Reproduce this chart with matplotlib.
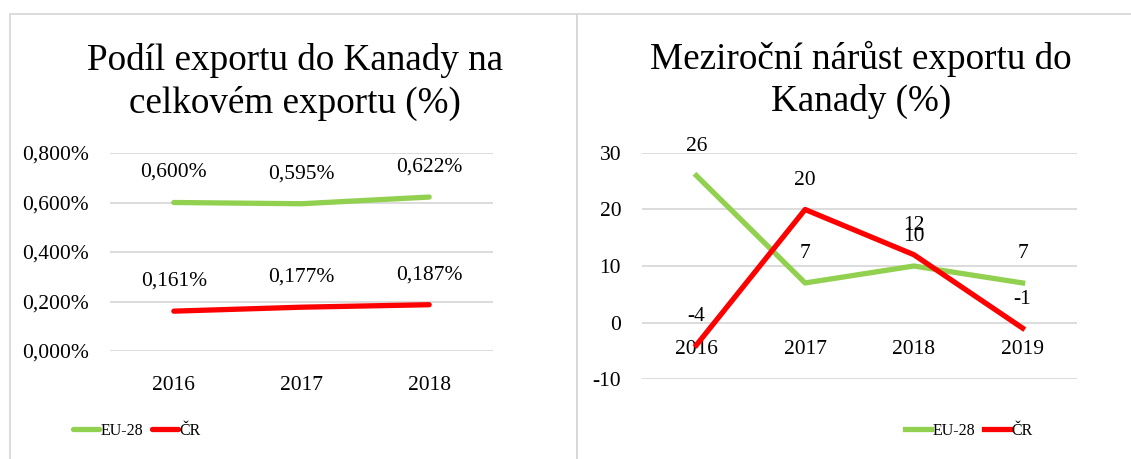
import matplotlib.pyplot as plt
from matplotlib.patches import Rectangle

plt.rcParams['font.family'] = ['Liberation Serif', 'DejaVu Serif']
plt.rcParams['axes.unicode_minus'] = False

# data
years_share = ['2016', '2017', '2018']
eu_share = [0.600, 0.595, 0.622]
cr_share = [0.161, 0.177, 0.187]

years_growth = ['2016', '2017', '2018', '2019']
eu_growth = [26, 7, 10, 7]
cr_growth = [-4, 20, 12, -1]

GREEN = '#92d050'
RED = '#ff0000'
GRID = '#d9d9d9'

W, H = 1131, 459
fig = plt.figure(figsize=(W / 100, H / 100), dpi=100)


def px_axes(x0, y0, x1, y1):
    # pixel box (top-left origin) -> figure axes
    return fig.add_axes([x0 / W, 1 - y1 / H, (x1 - x0) / W, (y1 - y0) / H])


# panel borders
for x0, x1 in [(10, 577), (577, 1140)]:
    fig.patches.append(Rectangle((x0 / W, -0.05), (x1 - x0) / W, 1 - 14 / H + 0.05,
                                 transform=fig.transFigure, fill=False,
                                 ec=GRID, lw=1.3))


def style(ax):
    for s in ax.spines.values():
        s.set_visible(False)
    ax.grid(axis='y', color=GRID, lw=1.3)
    ax.set_axisbelow(True)
    ax.tick_params(length=0, labelsize=15.5)
    ax.tick_params(axis='y', pad=15)


def pct(v):
    return f'{v:.3f}%'.replace('.', ',')


# left chart
ax1 = px_axes(110, 153, 493, 351)
style(ax1)
x = range(len(years_share))
ax1.plot(x, eu_share, color=GREEN, lw=3.8, solid_capstyle='round', label='EU-28')
ax1.plot(x, cr_share, color=RED, lw=3.8, solid_capstyle='round', label='ČR')
for series in (eu_share, cr_share):
    for xi, v in zip(x, series):
        ax1.annotate(pct(v), (xi, v), xytext=(0, 30), textcoords='offset pixels',
                     ha='center', va='center', fontsize=15.5)
ax1.set_xlim(-0.5, 2.5)
ax1.set_ylim(0, 0.8)
ticks = [0, 0.2, 0.4, 0.6, 0.8]
ax1.set_yticks(ticks)
ax1.set_yticklabels([pct(t) for t in ticks])
ax1.set_xticks(list(x))
ax1.set_xticklabels(years_share)
ax1.tick_params(axis='x', pad=18)
fig.text(295 / W, 1 - 82 / H, 'Podíl exportu do Kanady na\ncelkovém exportu (%)',
         ha='center', va='center', fontsize=26.7, linespacing=1.3)
ax1.legend(loc='center', bbox_to_anchor=(137 / W, 1 - 431 / H),
           bbox_transform=fig.transFigure, ncol=2, frameon=False, fontsize=11.5,
           handlelength=1.6, handletextpad=0.1, columnspacing=0.6)

# right chart
ax2 = px_axes(642, 153, 1077, 379)
style(ax2)
x2 = range(len(years_growth))
ax2.plot(x2, eu_growth, color=GREEN, lw=3.8, label='EU-28', zorder=3)
ax2.plot(x2, cr_growth, color=RED, lw=3.8, label='ČR', zorder=4)
for series in (eu_growth, cr_growth):
    for xi, v in zip(x2, series):
        ax2.annotate(str(v), (xi, v), xytext=(0, 29), textcoords='offset pixels',
                     ha='center', va='center', fontsize=15.5, zorder=5)
ax2.set_xlim(-0.5, 3.5)
ax2.set_ylim(-10, 30)
ax2.set_yticks([-10, 0, 10, 20, 30])
ax2.set_xticks([])
# category labels sit at the zero line
for xi, lab in zip(x2, years_growth):
    ax2.annotate(lab, (xi, 0), xytext=(0, -27), textcoords='offset pixels',
                 ha='center', va='center', fontsize=15.5, zorder=2)
fig.text(861 / W, 1 - 80 / H, 'Meziroční nárůst exportu do\nKanady (%)',
         ha='center', va='center', fontsize=26.7, linespacing=1.25)
ax2.legend(loc='center', bbox_to_anchor=(969 / W, 1 - 431 / H),
           bbox_transform=fig.transFigure, ncol=2, frameon=False, fontsize=11.5,
           handlelength=1.6, handletextpad=0.1, columnspacing=0.6)

fig.savefig('out.png', dpi=100)
